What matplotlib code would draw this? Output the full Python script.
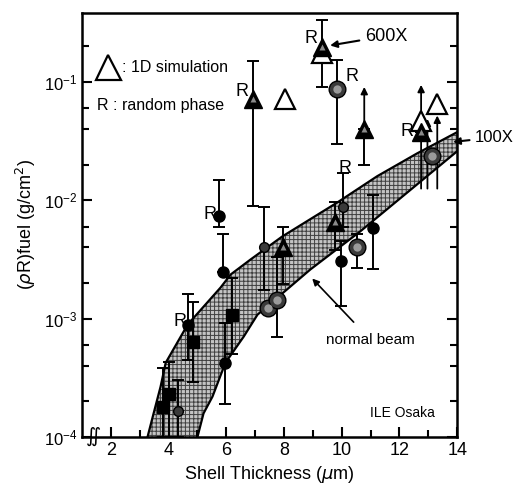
import numpy as np
import matplotlib
matplotlib.use('Agg')
import matplotlib.pyplot as plt
from matplotlib.ticker import LogLocator, FixedLocator, NullFormatter

plt.rcParams['font.family'] = ['Liberation Sans', 'DejaVu Sans']
plt.rcParams['hatch.linewidth'] = 0.7

# shaded "normal beam" band, upper and lower edges
band_up_x = [3.27, 3.48, 3.72, 3.90, 4.66, 5.80, 6.15, 6.84, 7.94, 9.85, 11.23, 12.62, 14.0]
band_up_y = [1.0e-4, 1.58e-4, 2.65e-4, 4.24e-4, 8.9e-4, 1.83e-3, 2.36e-3, 3.16e-3, 4.95e-3, 9.6e-3, 1.6e-2, 2.5e-2, 3.77e-2]
band_lo_x = [5.00, 5.21, 5.52, 5.97, 6.60, 7.08, 8.91, 10.64, 14.0]
band_lo_y = [1.0e-4, 1.58e-4, 2.19e-4, 4.24e-4, 7.03e-4, 1.08e-3, 2.60e-3, 5.46e-3, 2.60e-2]

# filled black circles
circ_x = [5.73, 5.87, 4.66, 5.94, 9.99, 11.09]
circ_y = [7.3e-3, 2.46e-3, 8.9e-4, 4.2e-4, 3.04e-3, 5.8e-3]
circ_lo = [5.9e-3, 2.46e-3, 4.5e-4, 1.9e-4, 1.29e-3, 2.65e-3]
circ_hi = [1.48e-2, 5.15e-3, 1.6e-3, 9.2e-4, 4.5e-3, 1.12e-2]

# small dotted circles
sdot_x = [4.31, 7.32, 10.06]
sdot_y = [1.66e-4, 4.0e-3, 8.7e-3]
sdot_lo = [1.0e-4, 1.76e-3, 6.0e-3]
sdot_hi = [3.04e-4, 8.7e-3, 1.7e-2]

# large dotted circles
bdot_x = [7.46, 7.74, 9.85, 10.54, 13.13]
bdot_y = [1.24e-3, 1.45e-3, 8.7e-2, 4.0e-3, 2.36e-2]
bdot_lo = [1.24e-3, 7.0e-4, 2.98e-2, 2.7e-3, 2.36e-2]
bdot_hi = [1.24e-3, 3.35e-3, 1.54e-1, 5.2e-3, 2.36e-2]

# filled squares
sq_x = [3.79, 4.03, 4.83, 6.21]
sq_y = [1.8e-4, 2.3e-4, 6.4e-4, 1.08e-3]
sq_lo = [1.0e-4, 1.0e-4, 2.9e-4, 5.0e-4]
sq_hi = [3.8e-4, 4.3e-4, 1.37e-3, 2.2e-3]

# filled triangles
tri_x = [6.91, 7.98, 9.78, 9.33, 10.78, 12.75]
tri_y = [7.18e-2, 4.07e-3, 6.5e-3, 1.98e-1, 4.0e-2, 3.77e-2]
tri_lo = [8.9e-3, 1.98e-3, 3.77e-3, 9.07e-2, 1.98e-2, 3.77e-2]
tri_hi = [1.51e-1, 6.0e-3, 9.6e-3, 3.35e-1, 4.0e-2, 3.77e-2]

# open triangles: 1D simulation
sim_x = [8.05, 9.33, 12.75, 13.31]
sim_y = [7.2e-2, 1.76e-1, 4.66e-2, 6.5e-2]

# lower-limit arrows
arr_x = [10.78, 12.75, 12.97, 13.31]
arr_from = [4.0e-2, 1.19e-2, 1.19e-2, 1.19e-2]
arr_to = [9.6e-2, 1.0e-1, 5.15e-2, 5.5e-2]

# "R" (random phase) labels
r_x = [5.45, 4.38, 6.55, 8.95, 10.35, 10.10, 12.25]
r_y = [7.6e-3, 9.5e-4, 8.3e-2, 2.35e-1, 1.12e-1, 1.85e-2, 3.85e-2]

fig = plt.figure(figsize=(5.16, 4.92), dpi=100)
ax = fig.add_axes([0.159, 0.112, 0.727, 0.862])
ax.set_yscale('log')
ax.set_xlim(1.0, 14.0)
ax.set_ylim(1e-4, 0.385)

poly_x = band_up_x + band_lo_x[::-1]
poly_y = band_up_y + band_lo_y[::-1]
ax.fill(poly_x, poly_y, facecolor='#c4c4c4', edgecolor='#404040', hatch='++++', lw=0)
ax.plot(band_up_x, band_up_y, color='k', lw=1.6)
ax.plot(band_lo_x, band_lo_y, color='k', lw=1.6)

def bars(x, y, lo, hi):
    x = np.array(x); y = np.array(y)
    err = [y - np.array(lo), np.array(hi) - y]
    ax.errorbar(x, y, yerr=err, fmt='none', ecolor='k', elinewidth=1.4, capsize=4, capthick=1.4)

bars(circ_x, circ_y, circ_lo, circ_hi)
bars(sdot_x, sdot_y, sdot_lo, sdot_hi)
bars(bdot_x, bdot_y, bdot_lo, bdot_hi)
bars(sq_x, sq_y, sq_lo, sq_hi)
bars(tri_x, tri_y, tri_lo, tri_hi)

for x, y0, y1 in zip(arr_x, arr_from, arr_to):
    ax.annotate('', xy=(x, y1), xytext=(x, y0),
                arrowprops=dict(arrowstyle='-|>', color='k', lw=1.3, mutation_scale=10))

ax.plot(circ_x, circ_y, 'o', ms=8, mfc='k', mec='k', zorder=5)
ax.plot(sdot_x, sdot_y, 'o', ms=7, mfc='#3a3a3a', mec='k', zorder=5)
ax.plot(bdot_x, bdot_y, 'o', ms=12, mfc='#3a3a3a', mec='k', zorder=5)
ax.plot(bdot_x, bdot_y, 'o', ms=6, mfc='#9a9a9a', mec='none', zorder=5)
ax.plot(sq_x, sq_y, 's', ms=8, mfc='k', mec='k', zorder=5)
ax.plot(sim_x, sim_y, '^', ms=15, mfc='white', mec='k', mew=1.6, zorder=5)
ax.plot(tri_x, tri_y, '^', ms=13, mfc='k', mec='k', zorder=6)
ax.plot(tri_x, tri_y, '^', ms=5, mfc='#8a8a8a', mec='none', zorder=6)

for x, y in zip(r_x, r_y):
    ax.text(x, y, 'R', fontsize=13, ha='center', va='center')

# legend text
ax.plot([0.068], [0.872], '^', ms=18, mfc='white', mec='k', mew=1.6, transform=ax.transAxes)
ax.text(0.107, 0.872, ': 1D simulation', fontsize=11.5, transform=ax.transAxes, va='center')
ax.text(0.04, 0.782, 'R : random phase', fontsize=11.5, transform=ax.transAxes, va='center')

ax.annotate('600X', xy=(9.5, 0.202), xytext=(10.8, 0.245), fontsize=13, va='center',
            arrowprops=dict(arrowstyle='-|>', color='k', lw=1.5, mutation_scale=10))
ax.annotate('100X', xy=(13.76, 0.031), xytext=(14.62, 0.034), fontsize=12, va='center',
            annotation_clip=False,
            arrowprops=dict(arrowstyle='-|>', color='k', lw=1.5, mutation_scale=10))
ax.annotate('normal beam', xy=(8.91, 2.27e-3), xytext=(11.0, 6.6e-4), fontsize=11,
            ha='center', va='center',
            arrowprops=dict(arrowstyle='-|>', color='k', lw=1.2, mutation_scale=10,
                            shrinkA=8))
ax.text(12.1, 1.6e-4, 'ILE Osaka', fontsize=10, ha='center', va='center')

# axis break mark
ax.text(1.38, 1e-4, r'$\int\!\!\int$', fontsize=10, ha='center', va='center', clip_on=False)

ax.xaxis.set_major_locator(FixedLocator([2, 4, 6, 8, 10, 12, 14]))
ax.xaxis.set_minor_locator(FixedLocator([3, 5, 7, 9, 11, 13]))
ax.yaxis.set_major_locator(LogLocator(base=10))
ax.yaxis.set_minor_locator(LogLocator(base=10, subs=(2, 4, 6)))
ax.yaxis.set_minor_formatter(NullFormatter())
ax.tick_params(which='both', direction='in', right=True, top=False, width=1.5)
ax.tick_params(which='major', length=7, labelsize=13)
ax.tick_params(which='minor', length=5)
ax.tick_params(axis='y', labelsize=12)
for s in ax.spines.values():
    s.set_linewidth(1.8)

ax.set_xlabel(r'Shell Thickness ($\mu$m)', fontsize=13)
ax.set_ylabel(r'($\rho$R)fuel (g/cm$^2$)', fontsize=13, labelpad=4)

fig.savefig('out.png', dpi=100)
